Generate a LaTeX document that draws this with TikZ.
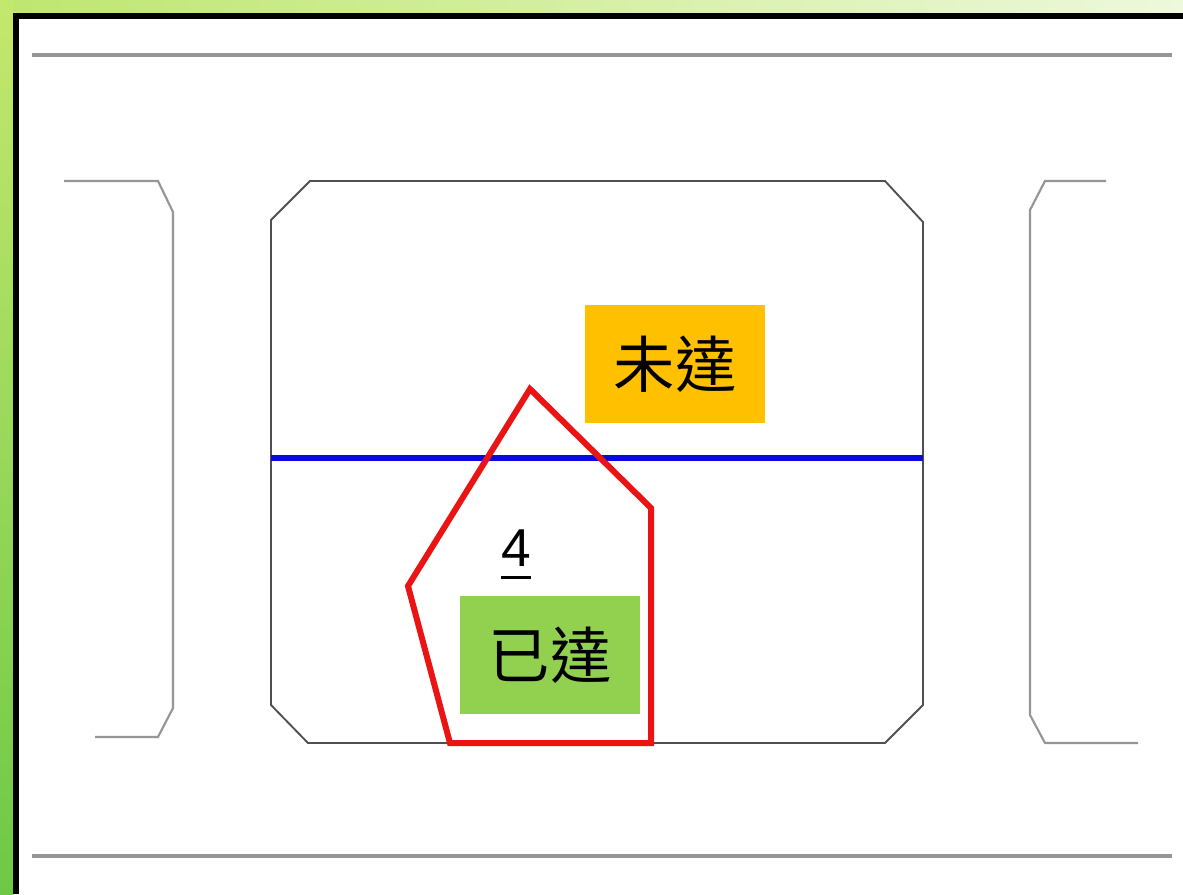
\documentclass[tikz,border=0pt]{standalone}
\usepackage{fontspec}
\setmainfont{Liberation Sans}
\newfontfamily\cjk{Noto Sans CJK TC}
\newcommand\thickul[1]{\setbox0\hbox{#1}\rlap{\rule[-10pt]{\wd0}{2.3pt}}\box0}
\definecolor{gtop}{RGB}{196,232,110}
\definecolor{gbot}{RGB}{110,200,70}
\definecolor{stripL}{RGB}{190,230,110}
\definecolor{stripR}{RGB}{238,248,220}
\definecolor{lgray}{RGB}{150,150,150}
\definecolor{dgray}{RGB}{80,80,80}
\definecolor{orangebox}{RGB}{255,192,0}
\definecolor{greenbox}{RGB}{146,208,80}
\definecolor{redline}{RGB}{235,20,20}
\definecolor{blueline}{RGB}{10,10,220}
\tikzset{
  guide/.style={draw=lgray, line width=2.4pt},
  bracket/.style={draw=lgray, line width=1.6pt},
  room/.style={draw=dgray, line width=1.4pt},
  label/.style={inner sep=0pt, minimum width=135pt, minimum height=88.5pt, font=\cjk\fontsize{46}{50}\selectfont},
}
\begin{document}
\begin{tikzpicture}[x=0.75pt,y=-0.75pt]
\useasboundingbox (0,0) rectangle (1183,894);
\fill[white] (0,0) rectangle (1183,894);
% background strips
\shade[left color=stripL, right color=stripR] (0,0) rectangle (1183,13);
\shade[top color=gtop, bottom color=gbot] (0,0) rectangle (13,894);
% frame
\draw[black, line width=4.5pt] (15.5,894) -- (15.5,15.5) -- (1183,15.5);
% guide lines
\draw[guide] (32,55) -- (1172,55);
\draw[guide] (32,856) -- (1172,856);
% left bracket
\draw[bracket] (64,181) -- (158,181) -- (173,212) -- (173,708) -- (158,737) -- (95,737);
% right bracket
\draw[bracket] (1106,181) -- (1045,181) -- (1030,210) -- (1030,715) -- (1045,743) -- (1138,743);
% main room
\draw[room] (310,181) -- (885,181) -- (923,222) -- (923,705) -- (885,743) -- (308,743) -- (271,705) -- (271,220) -- cycle;
% blue line
\draw[blueline, line width=4.5pt] (271,458) -- (923,458);
% labels
\node[label, fill=orangebox] (notyet) at (675,364) {未達};
\node[label, fill=greenbox] (done) at (550,655) {已達};
% red pentagon
\draw[redline, line width=4.5pt, line join=miter] (530,389) -- (651,508) -- (651,743) -- (450,743) -- (408,586) -- cycle;
% number
\node[inner sep=0pt, anchor=base, font=\fontsize{40}{44}\selectfont] (num) at (516,566) {\thickul{4}};
\end{tikzpicture}
\end{document}
